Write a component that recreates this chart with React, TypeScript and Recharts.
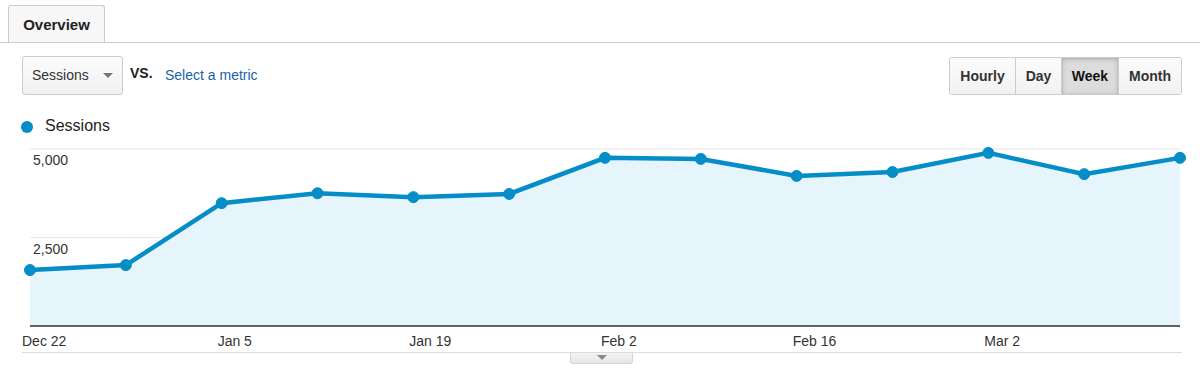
import React from 'react';
import { AreaChart, Area, XAxis, YAxis, CartesianGrid } from 'recharts';

const weeks = ['Dec 22', 'Dec 29', 'Jan 5', 'Jan 12', 'Jan 19', 'Jan 26', 'Feb 2', 'Feb 9', 'Feb 16', 'Feb 23', 'Mar 2', 'Mar 9', 'Mar 16'];
const sessions = [1580, 1720, 3470, 3750, 3640, 3730, 4750, 4720, 4240, 4350, 4890, 4290, 4750];
const tickLabels = ['Dec 22', 'Jan 5', 'Jan 19', 'Feb 2', 'Feb 16', 'Mar 2'];
const yTicks = [0, 2500, 5000];
const periods = ['Hourly', 'Day', 'Week', 'Month'];

const data = weeks.map((w, i) => ({ week: w, sessions: sessions[i] }));

const BLUE = '#058dc7';
const FONT = '"Liberation Sans", Arial, Helvetica, sans-serif';

const XTick = (props: any) => {
    const { x, y, payload, index } = props;
    if (!tickLabels.includes(payload.value)) return null;
    return (
        <text x={x - (index === 0 ? 8 : 4)} y={y + 12} textAnchor="start" fontSize={14} fill="#333" fontFamily={FONT}>
            {payload.value}
        </text>
    );
};

const YTick = (props: any) => {
    const { y, payload } = props;
    if (!payload.value) return null;
    return (
        <text x={33} y={y + 16} textAnchor="start" fontSize={14} fill="#333" fontFamily={FONT}>
            {Number(payload.value).toLocaleString('en-US')}
        </text>
    );
};

const btnWidths = [65, 46, 57, 63];

export default function App() {
    return (
        <div style={{ position: 'absolute', left: 0, top: 0, width: 1200, height: 377, background: '#fff', fontFamily: FONT, color: '#333', overflow: 'hidden' }}>
            {/* tab */}
            <div style={{ position: 'absolute', left: 0, top: 42, width: 1200, height: 1, background: '#ccc' }} />
            <div style={{ position: 'absolute', left: 8, top: 5, width: 97, height: 37, border: '1px solid #ccc', borderBottom: 'none', borderRadius: '3px 3px 0 0', background: '#f7f7f7', boxSizing: 'border-box', textAlign: 'center', lineHeight: '37px', fontWeight: 'bold', fontSize: 15, color: '#222' }}>
                Overview
            </div>

            {/* metric picker */}
            <div style={{ position: 'absolute', left: 22, top: 56, width: 101, height: 39, border: '1px solid #ccc', borderRadius: 3, boxSizing: 'border-box', background: 'linear-gradient(#fcfcfc, #f1f1f1)', fontSize: 14, lineHeight: '37px', paddingLeft: 9 }}>
                Sessions
                <span style={{ position: 'absolute', left: 80, top: 16, width: 0, height: 0, borderLeft: '5px solid transparent', borderRight: '5px solid transparent', borderTop: '5px solid #777' }} />
            </div>
            <div style={{ position: 'absolute', left: 130, top: 65, fontSize: 14, fontWeight: 'bold', color: '#222' }}>VS.</div>
            <div style={{ position: 'absolute', left: 165, top: 67, fontSize: 14, color: '#1a62a3' }}>Select a metric</div>

            {/* period buttons */}
            <div style={{ position: 'absolute', left: 949, top: 57, height: 38, display: 'flex', border: '1px solid #ccc', borderRadius: 3, boxSizing: 'border-box', overflow: 'hidden' }}>
                {periods.map((p, i) => (
                    <div key={p} style={{ width: btnWidths[i], boxSizing: 'border-box', borderLeft: i ? '1px solid #ccc' : 'none', textAlign: 'center', lineHeight: '36px', fontSize: 14, fontWeight: 'bold', color: p === 'Week' ? '#111' : '#333', background: p === 'Week' ? '#dcdcdc' : 'linear-gradient(#fcfcfc, #f1f1f1)', boxShadow: p === 'Week' ? 'inset 0 1px 4px rgba(0,0,0,0.25)' : 'none' }}>
                        {p}
                    </div>
                ))}
            </div>

            {/* legend */}
            <div style={{ position: 'absolute', left: 21, top: 121, width: 12, height: 12, borderRadius: 6, background: BLUE }} />
            <div style={{ position: 'absolute', left: 45, top: 117, fontSize: 16, color: '#222' }}>Sessions</div>

            <div style={{ position: 'absolute', left: 0, top: 140 }}>
                <AreaChart width={1200} height={216} data={data} margin={{ top: 9, right: 20, bottom: 0, left: 29 }}>
                    <CartesianGrid horizontal vertical={false} stroke="#e6e6e6" />
                    <XAxis dataKey="week" interval={0} tick={<XTick />} tickLine={false} axisLine={{ stroke: '#333', strokeWidth: 1.5 }} height={30} />
                    <YAxis domain={[0, 5000]} ticks={yTicks} interval={0} width={1} tick={<YTick />} tickLine={false} axisLine={false} />
                    <Area
                        type="linear"
                        dataKey="sessions"
                        stroke={BLUE}
                        strokeWidth={4.5}
                        fill="#e6f4fb"
                        fillOpacity={1}
                        dot={{ r: 5.5, fill: BLUE, stroke: BLUE, strokeWidth: 1 }}
                        activeDot={false}
                        isAnimationActive={false}
                    />
                </AreaChart>
            </div>

            {/* bottom rule and handle */}
            <div style={{ position: 'absolute', left: 22, top: 352, width: 1160, height: 1, background: '#ddd' }} />
            <div style={{ position: 'absolute', left: 570, top: 353, width: 63, height: 11, boxSizing: 'border-box', border: '1px solid #d4d4d4', borderTop: 'none', borderRadius: '0 0 3px 3px', background: 'linear-gradient(#f4f4f4, #e6e6e6)' }}>
                <span style={{ position: 'absolute', left: 26, top: 2, width: 0, height: 0, borderLeft: '5px solid transparent', borderRight: '5px solid transparent', borderTop: '5px solid #888' }} />
            </div>
        </div>
    );
}
